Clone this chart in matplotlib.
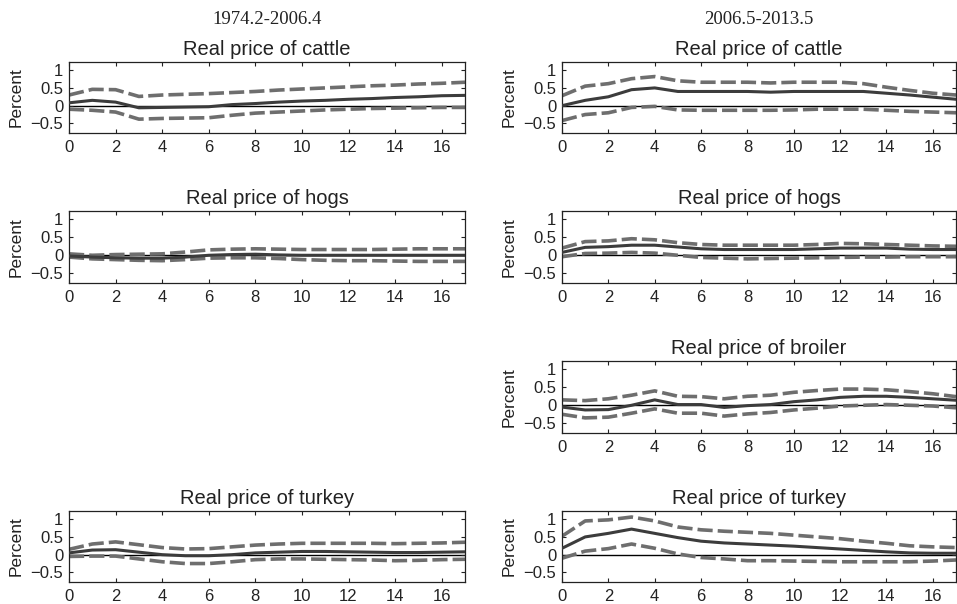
import numpy as np
import matplotlib
matplotlib.use('Agg')
import matplotlib.pyplot as plt

plt.rcParams['font.family'] = ['Liberation Sans', 'DejaVu Sans']

horizon = np.arange(18)
periods = ['1974.2-2006.4', '2006.5-2013.5']

# impulse responses: (median, upper band, lower band)
cattle_early = (
    [0.08, 0.15, 0.10, -0.06, -0.05, -0.04, -0.03, 0.03, 0.06, 0.10, 0.13, 0.15, 0.18, 0.20, 0.23, 0.25, 0.28, 0.29],
    [0.30, 0.46, 0.45, 0.26, 0.30, 0.32, 0.34, 0.37, 0.40, 0.44, 0.47, 0.50, 0.53, 0.56, 0.58, 0.61, 0.63, 0.66],
    [-0.10, -0.13, -0.18, -0.38, -0.36, -0.35, -0.34, -0.27, -0.21, -0.18, -0.15, -0.12, -0.10, -0.08, -0.07, -0.06, -0.05, -0.05],
)
cattle_late = (
    [0.00, 0.15, 0.25, 0.45, 0.50, 0.40, 0.40, 0.40, 0.40, 0.38, 0.40, 0.40, 0.40, 0.40, 0.35, 0.30, 0.24, 0.18],
    [0.28, 0.55, 0.62, 0.76, 0.82, 0.70, 0.66, 0.66, 0.66, 0.64, 0.66, 0.66, 0.66, 0.62, 0.52, 0.43, 0.35, 0.30],
    [-0.42, -0.25, -0.20, -0.05, -0.02, -0.12, -0.13, -0.13, -0.13, -0.13, -0.12, -0.10, -0.10, -0.10, -0.13, -0.16, -0.18, -0.20],
)
hogs_early = (
    [-0.02, -0.05, -0.07, -0.08, -0.08, -0.05, 0.00, 0.02, 0.03, 0.01, 0.00, 0.00, 0.00, 0.00, 0.00, 0.00, 0.00, 0.00],
    [0.04, 0.00, 0.02, 0.03, 0.04, 0.09, 0.15, 0.17, 0.18, 0.17, 0.16, 0.16, 0.16, 0.16, 0.17, 0.18, 0.18, 0.18],
    [-0.05, -0.10, -0.12, -0.14, -0.15, -0.12, -0.08, -0.07, -0.07, -0.09, -0.12, -0.14, -0.15, -0.15, -0.16, -0.17, -0.17, -0.17],
)
hogs_late = (
    [0.08, 0.22, 0.24, 0.28, 0.28, 0.23, 0.18, 0.16, 0.16, 0.16, 0.16, 0.18, 0.20, 0.20, 0.20, 0.17, 0.16, 0.16],
    [0.20, 0.38, 0.40, 0.46, 0.43, 0.35, 0.30, 0.28, 0.28, 0.28, 0.28, 0.30, 0.33, 0.32, 0.30, 0.28, 0.26, 0.25],
    [-0.04, 0.05, 0.06, 0.08, 0.06, 0.00, -0.06, -0.08, -0.10, -0.09, -0.08, -0.07, -0.06, -0.05, -0.05, -0.04, -0.04, -0.04],
)
broiler_late = (
    [-0.05, -0.13, -0.12, 0.00, 0.15, 0.02, 0.02, -0.06, -0.01, 0.02, 0.10, 0.15, 0.22, 0.25, 0.25, 0.22, 0.18, 0.14],
    [0.15, 0.13, 0.18, 0.28, 0.40, 0.25, 0.24, 0.18, 0.25, 0.28, 0.36, 0.41, 0.45, 0.45, 0.43, 0.38, 0.32, 0.24],
    [-0.25, -0.35, -0.33, -0.22, -0.10, -0.22, -0.22, -0.30, -0.24, -0.20, -0.13, -0.08, -0.02, 0.00, 0.02, 0.00, -0.02, -0.07],
)
turkey_early = (
    [0.05, 0.13, 0.14, 0.07, 0.00, -0.03, -0.03, 0.00, 0.05, 0.07, 0.09, 0.09, 0.08, 0.07, 0.06, 0.06, 0.07, 0.08],
    [0.15, 0.30, 0.36, 0.28, 0.20, 0.16, 0.17, 0.22, 0.27, 0.30, 0.32, 0.32, 0.32, 0.32, 0.31, 0.32, 0.33, 0.35],
    [-0.05, -0.04, -0.04, -0.12, -0.20, -0.25, -0.25, -0.20, -0.14, -0.12, -0.12, -0.13, -0.14, -0.15, -0.17, -0.16, -0.14, -0.13],
)
turkey_late = (
    [0.18, 0.50, 0.60, 0.72, 0.60, 0.48, 0.38, 0.33, 0.30, 0.27, 0.24, 0.20, 0.16, 0.12, 0.08, 0.05, 0.04, 0.04],
    [0.52, 0.95, 0.98, 1.06, 0.95, 0.78, 0.70, 0.66, 0.63, 0.60, 0.55, 0.50, 0.45, 0.38, 0.32, 0.25, 0.22, 0.20],
    [-0.10, 0.10, 0.17, 0.30, 0.18, 0.02, -0.08, -0.12, -0.17, -0.17, -0.18, -0.19, -0.20, -0.20, -0.20, -0.20, -0.18, -0.15],
)

# (row, column, title, responses)
panels = [
    (0, 0, 'Real price of cattle', cattle_early),
    (0, 1, 'Real price of cattle', cattle_late),
    (1, 0, 'Real price of hogs', hogs_early),
    (1, 1, 'Real price of hogs', hogs_late),
    (2, 1, 'Real price of broiler', broiler_late),
    (3, 0, 'Real price of turkey', turkey_early),
    (3, 1, 'Real price of turkey', turkey_late),
]

W, H = 957, 604
col_x = [(69, 465), (562, 956)]
row_y = [(62, 133), (211, 283), (361, 433), (511, 582)]

fig = plt.figure(figsize=(W / 100, H / 100), dpi=100)

for row, col, title, (mid, hi, lo) in panels:
    x0, x1 = col_x[col]
    y0, y1 = row_y[row]
    ax = fig.add_axes([x0 / W, 1 - y1 / H, (x1 - x0) / W, (y1 - y0) / H])
    ax.axhline(0, color='black', lw=1.0, zorder=1)
    ax.plot(horizon, hi, color='#6e6e6e', lw=2.6, dashes=(4.2, 1.4), zorder=2)
    ax.plot(horizon, lo, color='#6e6e6e', lw=2.6, dashes=(4.2, 1.4), zorder=2)
    ax.plot(horizon, mid, color='#3c3c3c', lw=2.2, zorder=3)
    ax.set_xlim(0, 17)
    ax.set_ylim(-0.77, 1.23)
    ax.set_xticks(range(0, 17, 2))
    ax.set_yticks([-0.5, 0, 0.5, 1])
    ax.set_yticklabels(['\u22120.5', '0', '0.5', '1'])
    ax.tick_params(direction='in', length=3, width=0.8, top=True, right=True,
                   labelsize=12, colors='#222222')
    ax.tick_params(axis='x', pad=5)
    ax.tick_params(axis='y', pad=4)
    for s in ax.spines.values():
        s.set_linewidth(0.9)
        s.set_color('#222222')
    ax.set_title(title, fontsize=14.5, color='#222222', pad=5)
    ax.set_ylabel('Percent', fontsize=12.5, color='#222222', labelpad=5)

for col, label in enumerate(periods):
    x0, x1 = col_x[col]
    fig.text((x0 + x1) / 2 / W, 1 - 20 / H, label, ha='center', va='center',
             fontsize=13.5, family='Liberation Serif', color='#222222')

fig.savefig('out.png', dpi=100)
